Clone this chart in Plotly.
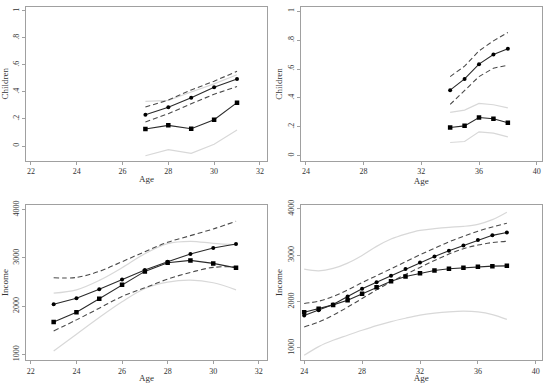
import plotly.graph_objects as go

# ---------------- data ----------------
# Top-left panel: Children vs Age
tl_age = [27, 28, 29, 30, 31]
tl_fit = [0.232, 0.287, 0.358, 0.435, 0.496]
tl_fit_hi = [0.289, 0.340, 0.415, 0.480, 0.553]
tl_fit_lo = [0.178, 0.239, 0.313, 0.383, 0.440]
tl_obs = [0.126, 0.153, 0.128, 0.195, 0.321]
tl_obs_hi = [0.330, 0.338, 0.400, 0.460, 0.528]
tl_obs_lo = [-0.072, -0.027, -0.054, 0.013, 0.118]

# Top-right panel: Children vs Age
tr_age = [34, 35, 36, 37, 38]
tr_fit = [0.454, 0.532, 0.634, 0.700, 0.740]
tr_fit_hi = [0.548, 0.620, 0.726, 0.795, 0.853]
tr_fit_lo = [0.355, 0.449, 0.548, 0.606, 0.627]
tr_obs = [0.196, 0.207, 0.265, 0.256, 0.228]
tr_obs_hi = [0.300, 0.316, 0.362, 0.353, 0.332]
tr_obs_lo = [0.092, 0.099, 0.166, 0.157, 0.131]

# Bottom-left panel: Income vs Age
bl_age = [23, 24, 25, 26, 27, 28, 29, 30, 31]
bl_fit = [2039, 2164, 2351, 2552, 2746, 2920, 3079, 3204, 3287]
bl_fit_hi = [2587, 2594, 2719, 2920, 3128, 3322, 3460, 3599, 3758]
bl_fit_lo = [1485, 1714, 1956, 2199, 2379, 2559, 2698, 2802, 2815]
bl_obs = [1672, 1873, 2150, 2441, 2719, 2899, 2947, 2885, 2792]
bl_obs_hi = [2268, 2337, 2532, 2795, 3086, 3294, 3342, 3300, 3270]
bl_obs_lo = [1069, 1416, 1762, 2088, 2365, 2497, 2538, 2483, 2337]

# Bottom-right panel: Income vs Age
br_age = [24, 25, 26, 27, 28, 29, 30, 31, 32, 33, 34, 35, 36, 37, 38]
br_fit = [1699, 1815, 1937, 2110, 2276, 2420, 2557, 2702, 2846, 2975, 3098, 3213, 3330, 3430, 3492]
br_fit_hi = [1960, 2010, 2110, 2250, 2410, 2560, 2710, 2860, 3010, 3150, 3290, 3410, 3520, 3610, 3690]
br_fit_lo = [1454, 1562, 1707, 1880, 2067, 2254, 2427, 2586, 2738, 2889, 3026, 3141, 3220, 3275, 3302]
br_obs = [1771, 1844, 1930, 2031, 2168, 2312, 2442, 2543, 2615, 2673, 2709, 2730, 2752, 2766, 2772]
br_obs_hi = [2702, 2665, 2716, 2831, 2997, 3192, 3350, 3458, 3538, 3574, 3603, 3624, 3668, 3769, 3930]
br_obs_lo = [841, 1029, 1166, 1274, 1382, 1483, 1570, 1642, 1707, 1750, 1779, 1793, 1779, 1721, 1617]

children_ticks = [0, 0.2, 0.4, 0.6, 0.8, 1]
children_ticktext = ["0", ".2", ".4", ".6", ".8", "1"]
income_ticks = [1000, 2000, 3000, 4000]
income_ticktext = ["1000", "2000", "3000", "4000"]

# ---------------- figure ----------------
FONT = "Liberation Serif"
GRAY_LIGHT = "#d8d8d8"
DASH_C = "#4a4a4a"
SOLID_C = "#2a2a2a"
FRAME_C = "#a0a0a0"

fig = go.Figure()

panels = [
    ("x", "y", tl_age, tl_fit, tl_fit_hi, tl_fit_lo, tl_obs, tl_obs_hi, tl_obs_lo),
    ("x2", "y2", tr_age, tr_fit, tr_fit_hi, tr_fit_lo, tr_obs, tr_obs_hi, tr_obs_lo),
    ("x3", "y3", bl_age, bl_fit, bl_fit_hi, bl_fit_lo, bl_obs, bl_obs_hi, bl_obs_lo),
    ("x4", "y4", br_age, br_fit, br_fit_hi, br_fit_lo, br_obs, br_obs_hi, br_obs_lo),
]

for xa, ya, age, fit, fhi, flo, obs, ohi, olo in panels:
    smooth = "spline" if xa in ("x3", "x4") else "linear"
    for ser in (ohi, olo):
        fig.add_trace(go.Scatter(x=age, y=ser, xaxis=xa, yaxis=ya, mode="lines",
                                 line=dict(color=GRAY_LIGHT, width=1.2, shape=smooth),
                                 showlegend=False, hoverinfo="skip"))
    for ser in (fhi, flo):
        fig.add_trace(go.Scatter(x=age, y=ser, xaxis=xa, yaxis=ya, mode="lines",
                                 line=dict(color=DASH_C, width=1.1, dash="5px,3px", shape=smooth),
                                 showlegend=False, hoverinfo="skip"))
    fig.add_trace(go.Scatter(x=age, y=obs, xaxis=xa, yaxis=ya, mode="lines+markers",
                             line=dict(color=SOLID_C, width=1.1),
                             marker=dict(symbol="square", size=4.5, color="black"),
                             showlegend=False))
    fig.add_trace(go.Scatter(x=age, y=fit, xaxis=xa, yaxis=ya, mode="lines+markers",
                             line=dict(color=SOLID_C, width=1.1),
                             marker=dict(symbol="circle", size=4, color="black"),
                             showlegend=False))

axis_common = dict(showline=True, mirror=True, linecolor=FRAME_C, linewidth=1,
                   ticks="outside", ticklen=3, tickcolor=FRAME_C, showgrid=False,
                   zeroline=False, automargin=False,
                   tickfont=dict(family=FONT, size=8, color="#333"))

x_left = [0.047, 0.4855]
x_right = [0.547, 0.985]
y_top = [0.580, 0.982]
y_bot = [0.060, 0.465]

title_font = dict(family=FONT, size=9, color="#333")

fig.update_layout(
    width=550, height=383, margin=dict(l=0, r=0, t=0, b=0, autoexpand=False),
    paper_bgcolor="white", plot_bgcolor="white",
    font=dict(family=FONT),
    xaxis=dict(domain=x_left, anchor="y", range=[21.78, 32.31], tickvals=[22, 24, 26, 28, 30, 32],
               title=dict(text="Age", font=title_font, standoff=0), **axis_common),
    yaxis=dict(domain=y_top, anchor="x", range=[-0.11, 1.03], tickvals=children_ticks,
               ticktext=children_ticktext, tickangle=-90,
               title=dict(text="Children", font=title_font, standoff=2), **axis_common),
    xaxis2=dict(domain=x_right, anchor="y2", range=[23.65, 40.35], tickvals=[24, 28, 32, 36, 40],
                title=dict(text="Age", font=title_font, standoff=0), **axis_common),
    yaxis2=dict(domain=y_top, anchor="x2", range=[-0.035, 1.03], tickvals=children_ticks,
                ticktext=children_ticktext, tickangle=-90,
                title=dict(text="Children", font=title_font, standoff=2), **axis_common),
    xaxis3=dict(domain=x_left, anchor="y3", range=[21.78, 32.36], tickvals=[22, 24, 26, 28, 30, 32],
                title=dict(text="Age", font=title_font, standoff=0), **axis_common),
    yaxis3=dict(domain=y_bot, anchor="x3", range=[882, 4097], tickvals=income_ticks,
                ticktext=income_ticktext, tickangle=-90,
                title=dict(text="Income", font=title_font, standoff=2), **axis_common),
    xaxis4=dict(domain=x_right, anchor="y4", range=[23.77, 40.41], tickvals=[24, 28, 32, 36, 40],
                title=dict(text="Age", font=title_font, standoff=0), **axis_common),
    yaxis4=dict(domain=y_bot, anchor="x4", range=[740, 4087], tickvals=income_ticks,
                ticktext=income_ticktext, tickangle=-90,
                title=dict(text="Income", font=title_font, standoff=2), **axis_common),
)

fig.write_html("out.html", config={"displayModeBar": False},
               post_script="document.body.style.margin='0';")
